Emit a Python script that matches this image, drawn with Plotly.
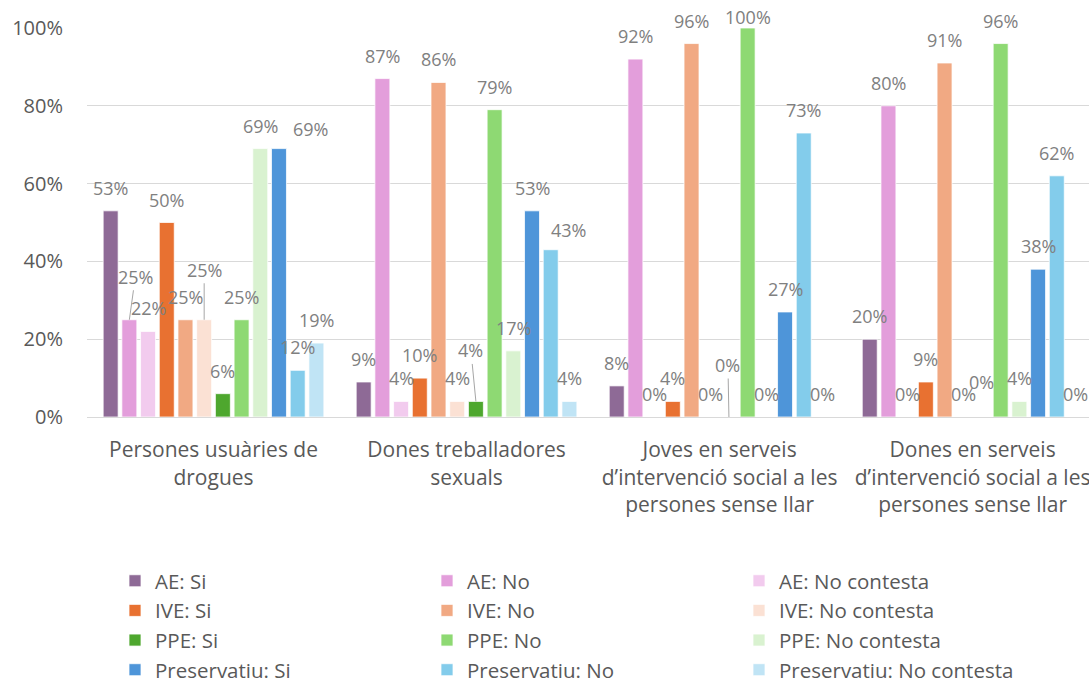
import plotly.graph_objects as go

# categories (x axis)
categories = [
    "Persones usuàries de<br>drogues",
    "Dones treballadores<br>sexuals",
    "Joves en serveis<br>d’intervenció social a les<br>persones sense llar",
    "Dones en serveis<br>d’intervenció social a les<br>persones sense llar",
]

# series names
series_names = [
    "AE: Si", "AE: No", "AE: No contesta",
    "IVE: Si", "IVE: No", "IVE: No contesta",
    "PPE: Si", "PPE: No", "PPE: No contesta",
    "Preservatiu: Si", "Preservatiu: No", "Preservatiu: No contesta",
]

# values per series (%), one per category
ae_si = [53, 9, 8, 20]
ae_no = [25, 87, 92, 80]
ae_nc = [22, 4, 0, 0]
ive_si = [50, 10, 4, 9]
ive_no = [25, 86, 96, 91]
ive_nc = [25, 4, 0, 0]
ppe_si = [6, 4, 0, 0]
ppe_no = [25, 79, 100, 96]
ppe_nc = [69, 17, 0, 4]
pres_si = [69, 53, 27, 38]
pres_no = [12, 43, 73, 62]
pres_nc = [19, 4, 0, 0]

series_values = [ae_si, ae_no, ae_nc, ive_si, ive_no, ive_nc,
                 ppe_si, ppe_no, ppe_nc, pres_si, pres_no, pres_nc]

y_ticks = [0, 20, 40, 60, 80, 100]
y_tick_labels = ["0%", "20%", "40%", "60%", "80%", "100%"]

colors = [
    "#8E6A96", "#E39EDB", "#F2CBEE",
    "#E87131", "#F1A983", "#FBE1D4",
    "#4EA72E", "#8ED973", "#D9F2D0",
    "#4E95D9", "#83CCEB", "#C0E4F5",
]

# label nudges (px) where the labels were moved to avoid overlap
# (category, series) -> (dx, dy, leader line)
LABEL_SHIFT = 23
label_moves = {
    (0, 1): (6, -43, True),
    (0, 5): (0, -50, True),
    (0, 9): (32, -20, False),
    (1, 6): (-5, -51, True),
    (1, 10): (18, -20, False),
    (2, 6): (-1, -52, True),
    (2, 7): (0, -11, False),
    (3, 6): (0, -35, False),
}

BARGAP = 0.113
n_series = len(series_names)

fig = go.Figure()
for name, vals, col in zip(series_names, series_values, colors):
    fig.add_trace(go.Bar(
        x=categories,
        y=vals,
        name=name,
        marker=dict(color=col, line=dict(color="white", width=0.75)),
        hoverinfo="skip",
    ))

label_font = dict(family="Open Sans", size=18, color="#808080")
annotations = []
for s, vals in enumerate(series_values):
    for c, v in enumerate(vals):
        xpos = c + (s - (n_series - 1) / 2) * (1 - BARGAP) / n_series
        dx, dy, leader = label_moves.get((c, s), (0, -LABEL_SHIFT, False))
        if leader:
            annotations.append(dict(
                x=xpos, y=v, xref="x", yref="y",
                text=f"{v}%", font=label_font,
                showarrow=True, arrowhead=0, arrowwidth=1,
                arrowcolor="#a6a6a6", ax=dx, ay=dy,
            ))
        else:
            annotations.append(dict(
                x=xpos, y=v, xref="x", yref="y",
                text=f"{v}%", font=label_font, showarrow=False,
                xshift=dx, yshift=-dy, yanchor="middle",
            ))

fig.update_layout(
    width=1089,
    height=679,
    margin=dict(l=87, r=0, t=28, b=262, autoexpand=False),
    barmode="group",
    bargap=BARGAP,
    bargroupgap=0.2,
    plot_bgcolor="white",
    paper_bgcolor="white",
    font=dict(family="Open Sans", size=18, color="#595959"),
    annotations=annotations,
    legend=dict(
        orientation="h",
        x=(115 - 87) / 1002,
        xanchor="left",
        y=-0.370,
        yanchor="top",
        entrywidth=267,
        itemwidth=30,
        font=dict(size=20.5, color="#595959"),
        traceorder="normal",
    ),
    showlegend=True,
)
fig.update_xaxes(
    range=[-0.5, 3.46],
    showline=True,
    linecolor="#d9d9d9",
    linewidth=1,
    ticks="",
    tickfont=dict(size=21, color="#595959"),
    ticklabelstandoff=14,
)
fig.update_yaxes(
    range=[0, 100],
    tickmode="array",
    tickvals=y_ticks,
    ticktext=y_tick_labels,
    showgrid=True,
    gridcolor="#d9d9d9",
    gridwidth=1,
    zeroline=False,
    tickfont=dict(size=20, color="#595959"),
    ticklabelstandoff=23,
)

# the page has a default body margin; drop it so the figure sits at 0,0
fig.write_html(
    "out.html",
    config={"displayModeBar": False},
    post_script="document.body.style.margin='0';",
)
